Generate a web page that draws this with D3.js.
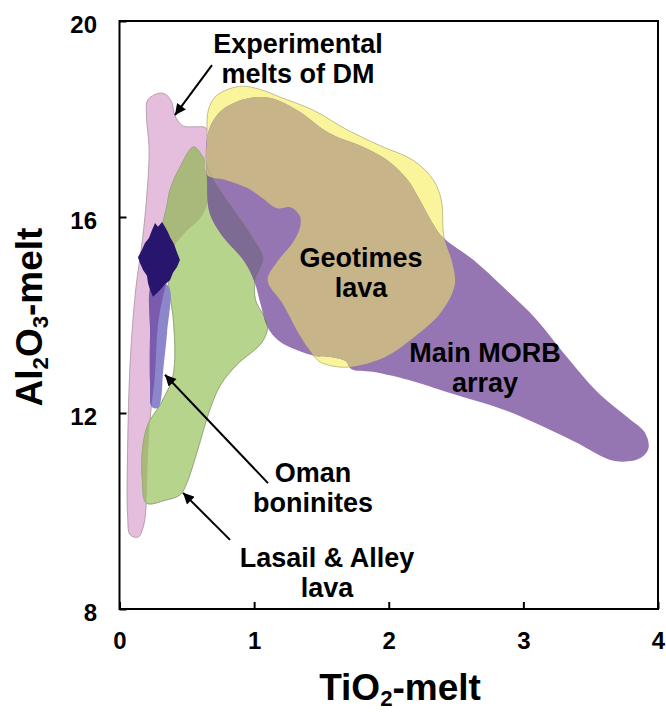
<!DOCTYPE html>
<html>
<head>
<meta charset="utf-8">
<script src="https://cdn.jsdelivr.net/npm/d3@7"></script>
<style>
  body { margin: 0; background: #fff; }
  svg { display: block; }
  text { font-family: "Liberation Sans", Arial, Helvetica, sans-serif; font-weight: bold; fill: #000; }
</style>
</head>
<body>
<svg id="chart" width="666" height="712"></svg>
<script>
// Axis ticks
const xTicks = [0, 1, 2, 3, 4];
const yTicks = [8, 12, 16, 20];

// Field outlines, [TiO2, Al2O3] in wt%
const experimentalMeltsDM = [
  [0.21,18.39],[0.30,18.53],[0.35,18.49],[0.39,18.33],[0.41,18.08],[0.47,17.86],[0.56,17.84],[0.64,17.82],
  [0.66,17.57],[0.66,16.35],[0.60,15.98],[0.49,15.69],[0.39,15.33],[0.35,14.71],[0.29,13.90],[0.26,12.67],
  [0.23,11.96],[0.21,11.04],[0.20,10.22],[0.18,9.71],[0.14,9.47],[0.08,9.51],[0.06,9.92],[0.06,11.24],
  [0.08,13.08],[0.12,14.51],[0.17,15.53],[0.20,16.35],[0.22,17.37],[0.20,18.08]
];
const lasailAlleyLava = [
  [0.55,17.43],[0.62,17.22],[0.66,16.96],[0.75,16.55],[0.87,16.08],[0.99,15.59],[1.07,15.18],[1.05,14.96],
  [1.01,14.71],[1.01,14.31],[1.10,13.80],[1.06,13.45],[0.87,12.98],[0.75,12.57],[0.67,12.06],[0.58,11.24],
  [0.50,10.57],[0.45,10.33],[0.34,10.22],[0.20,10.16],[0.17,10.63],[0.17,11.24],[0.21,11.76],[0.30,12.16],
  [0.34,12.37],[0.39,12.67],[0.41,13.08],[0.40,13.90],[0.38,14.31],[0.35,14.92],[0.32,15.53],[0.32,15.84],
  [0.35,16.20],[0.375,16.55],[0.45,17.02]
];
const geotimesLava = [
  [0.65,16.86],[0.65,17.57],[0.66,18.18],[0.71,18.45],[0.81,18.61],[0.92,18.67],[1.06,18.59],[1.19,18.45],
  [1.44,18.18],[1.69,17.78],[1.94,17.45],[2.18,17.16],[2.33,16.76],[2.39,16.35],[2.41,15.59],[2.47,15.08],
  [2.49,14.61],[2.39,14.06],[2.19,13.55],[1.97,13.14],[1.71,12.94],[1.58,12.96],[1.48,13.06],[1.40,13.33],
  [1.33,13.63],[1.21,14.24],[1.10,14.71],[1.17,15.08],[1.29,15.49],[1.34,15.78],[1.34,16.02],[1.27,16.20],
  [1.17,16.18],[1.06,16.39],[0.95,16.59],[0.78,16.76]
];
const mainMORBArray = [
  [0.65,17.61],[0.69,17.94],[0.76,18.18],[0.87,18.35],[0.97,18.43],[1.12,18.43],[1.32,18.18],[1.56,17.71],
  [1.81,17.43],[1.99,17.16],[2.14,16.76],[2.23,16.35],[2.32,15.90],[2.40,15.59],[2.63,15.12],[2.85,14.57],
  [3.10,13.90],[3.30,13.22],[3.55,12.43],[3.78,11.90],[3.90,11.61],[3.93,11.29],[3.87,11.08],[3.68,11.02],
  [3.37,11.43],[2.88,12.04],[2.43,12.43],[2.18,12.65],[1.88,12.84],[1.72,12.90],[1.68,13.06],[1.58,13.14],
  [1.46,13.16],[1.32,13.28],[1.18,13.48],[1.10,13.75],[1.05,14.20],[1.00,14.70],[0.92,15.12],[0.77,15.59],
  [0.67,16.08],[0.65,16.76]
];
const omanBoninites = [
  [0.241,14.61],[0.338,14.65],[0.375,14.51],[0.353,13.63],[0.323,12.82],[0.308,12.27],[0.286,12.10],
  [0.241,12.12],[0.227,12.61],[0.227,13.63]
];
const darkCluster = [
  [0.137,15.18],[0.167,15.33],[0.189,15.47],[0.219,15.57],[0.241,15.73],[0.264,15.88],[0.286,15.80],
  [0.316,15.90],[0.338,15.80],[0.360,15.69],[0.375,15.59],[0.405,15.45],[0.420,15.33],[0.449,15.12],
  [0.427,14.98],[0.397,14.86],[0.375,14.71],[0.338,14.63],[0.308,14.53],[0.279,14.45],[0.249,14.37],
  [0.227,14.51],[0.212,14.65],[0.204,14.80],[0.175,14.92],[0.152,15.06]
];

// Field names and their anchor (first baseline) in data units
const fieldLabels = [
  { lines: ["Experimental", "melts of DM"], at: [1.326, 19.35] },
  { lines: ["Geotimes", "lava"], at: [1.794, 14.98] },
  { lines: ["Main MORB", "array"], at: [2.715, 13.04] },
  { lines: ["Oman", "boninites"], at: [1.438, 10.59] },
  { lines: ["Lasail & Alley", "lava"], at: [1.542, 8.86] }
];
// Pointer arrows: [from, to] in data units
const pointerArrows = [
  [[0.687, 19.10], [0.412, 18.08]],
  [[1.103, 10.57], [0.338, 12.78]],
  [[0.821, 9.41], [0.472, 10.37]]
];

const svg = d3.select("#chart");
const x = d3.scaleLinear().domain([0, 4]).range([119.5, 658]);
const y = d3.scaleLinear().domain([8, 20]).range([609, 21]);

const smooth = d3.line().x(d => x(d[0])).y(d => y(d[1])).curve(d3.curveCatmullRomClosed.alpha(0.5));
const jagged = d3.line().x(d => x(d[0])).y(d => y(d[1])).curve(d3.curveLinearClosed);

const defs = svg.append("defs");
function clip(id, pts) {
  defs.append("clipPath").attr("id", id).append("path").attr("d", smooth(pts));
  return `url(#${id})`;
}
const clipPink = clip("clip-exp", experimentalMeltsDM);
const clipGreen = clip("clip-lasail", lasailAlleyLava);
const clipYellow = clip("clip-geo", geotimesLava);

const fields = svg.append("g");
function field(pts, fill, opts = {}) {
  const p = fields.append("path").attr("d", (opts.gen || smooth)(pts)).attr("fill", fill);
  if (opts.stroke) p.attr("stroke", opts.stroke).attr("stroke-width", 0.8);
  else p.attr("stroke", "none");
  if (opts.clip) p.attr("clip-path", opts.clip);
  return p;
}

field(experimentalMeltsDM, "#e4bedc", { stroke: "#a9909f" });
field(lasailAlleyLava, "#b7d48c", { stroke: "#93a777" });
field(lasailAlleyLava, "#a9b87b", { clip: clipPink });
field(geotimesLava, "#faf59b", { stroke: "#b3ae78" });
field(mainMORBArray, "#9676b2");
field(mainMORBArray, "#7e6b93", { clip: clipGreen });
field(mainMORBArray, "#c7b488", { clip: clipYellow });
field(lasailAlleyLava, "none", { stroke: "#8a9a70" }).attr("stroke-opacity", 0.5);
field(omanBoninites, "#8c87cd");
field(omanBoninites, "#7a5bae", { clip: clipPink });
field(darkCluster, "#28166e", { gen: jagged });

// Frame and axes
svg.append("rect")
  .attr("x", x(0)).attr("y", y(20))
  .attr("width", x(4) - x(0)).attr("height", y(8) - y(20))
  .attr("fill", "none").attr("stroke", "#000").attr("stroke-width", 2);

const gx = svg.append("g")
  .attr("transform", `translate(0,${y(8)})`)
  .call(d3.axisBottom(x).tickValues(xTicks).tickSizeInner(-7).tickSizeOuter(0)
    .tickPadding(22.6).tickFormat(d3.format("d")));
const gy = svg.append("g")
  .attr("transform", `translate(${x(0)},0)`)
  .call(d3.axisLeft(y).tickValues(yTicks).tickSizeInner(-7).tickSizeOuter(0)
    .tickPadding(22.5).tickFormat(d3.format("d")));
[gx, gy].forEach(g => {
  g.attr("font-family", null).attr("font-size", null);
  g.select(".domain").remove();
  g.selectAll(".tick line").attr("stroke", "#000").attr("stroke-width", 2);
  g.selectAll(".tick text").style("font-size", "24px").attr("fill", "#000");
});
gy.selectAll(".tick text").attr("dy", "0.48em");

// Axis titles with chemical subscripts
function formula(sel, parts, size) {
  let lowered = false;
  parts.forEach(([t, sub]) => {
    const shift = size * 0.17;
    const dy = sub ? (lowered ? 0 : shift) : (lowered ? -shift : 0);
    lowered = !!sub;
    sel.append("tspan").text(t)
      .style("font-size", sub ? `${size * 0.6}px` : `${size}px`)
      .attr("dy", dy);
  });
}
const xt = svg.append("text").attr("x", 400).attr("y", 700).attr("text-anchor", "middle");
formula(xt, [["TiO"], ["2", true], ["-melt"]], 37);
const yt = svg.append("text").attr("transform", "translate(42,317) rotate(-90)").attr("text-anchor", "middle");
formula(yt, [["Al"], ["2", true], ["O"], ["3", true], ["-melt"]], 37);

// Field labels
fieldLabels.forEach(l => {
  const t = svg.append("text").attr("text-anchor", "middle").style("font-size", "27px");
  l.lines.forEach((s, i) => {
    t.append("tspan").attr("x", x(l.at[0])).attr("y", y(l.at[1]) + i * 30).text(s);
  });
});

// Pointer arrows
defs.append("marker").attr("id", "head")
  .attr("viewBox", "0 0 10 10").attr("refX", 10).attr("refY", 5)
  .attr("markerUnits", "userSpaceOnUse").attr("markerWidth", 14).attr("markerHeight", 11)
  .attr("orient", "auto")
  .append("path").attr("d", "M0,0L10,5L0,10Z").attr("fill", "#000");
svg.append("g").selectAll("line").data(pointerArrows).join("line")
  .attr("x1", d => x(d[0][0])).attr("y1", d => y(d[0][1]))
  .attr("x2", d => x(d[1][0])).attr("y2", d => y(d[1][1]))
  .attr("stroke", "#000").attr("stroke-width", 2)
  .attr("marker-end", "url(#head)");
</script>
</body>
</html>
